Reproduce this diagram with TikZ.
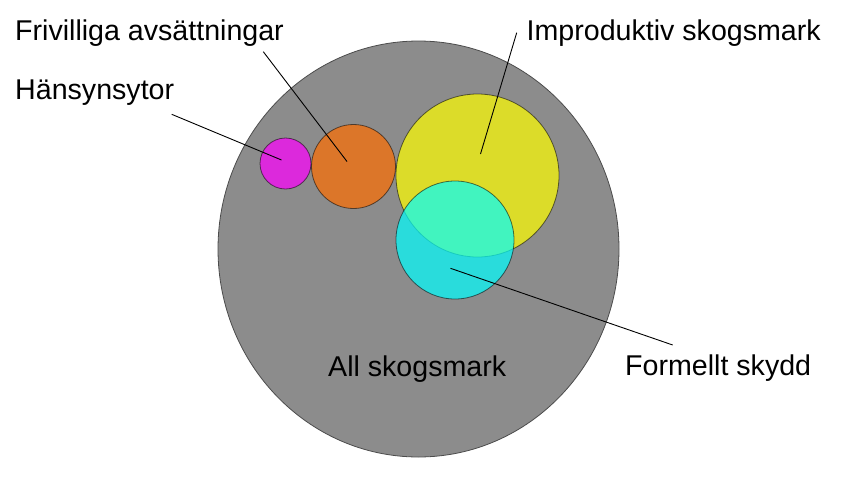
\documentclass[tikz,border=0pt]{standalone}
\usepackage{fontspec}
\setmainfont{Liberation Sans}
\usetikzlibrary{shapes.geometric}
\definecolor{biggray}{RGB}{140,140,140}
\definecolor{cmag}{RGB}{255,0,255}
\definecolor{corange}{RGB}{255,110,0}
\definecolor{cyellow}{RGB}{255,255,0}
\definecolor{ccyan}{RGB}{0,255,255}
\tikzset{
  blob/.style={circle, inner sep=0pt, fill opacity=0.7, draw=black, draw opacity=0.55, line width=0.8pt},
  lbl/.style={anchor=base west, inner sep=0pt, font=\fontsize{28.6}{34}\selectfont},
  leader/.style={draw=black, line width=0.9pt}
}
\begin{document}
\begin{tikzpicture}[x=1pt,y=-1pt]
\useasboundingbox (0,0) rectangle (844,483);
\node[ellipse, inner sep=0pt, minimum width=401pt, minimum height=416pt, fill=biggray, draw=black!70, line width=0.8pt] (all) at (418.5,249) {};
\node[blob, fill=cmag, minimum size=51pt] (mag) at (285.5,163.5) {};
\node[blob, fill=corange, minimum size=84pt] (ora) at (353.5,166.5) {};
\node[blob, fill=cyellow, minimum size=163pt] (yel) at (477.5,175.5) {};
\node[blob, fill=ccyan, minimum size=118pt] (cya) at (455,240) {};

\node[lbl] (tall) at (328,376) {All skogsmark};
\node[lbl] (tfri) at (15,40.7) {Frivilliga avsättningar};
\node[lbl] (than) at (15,99.3) {Hänsynsytor};
\node[lbl] (timp) at (526.5,40.7) {Improduktiv skogsmark};
\node[lbl] (tfor) at (625,375) {Formellt skydd};

\coordinate (hs) at (171.7,114.3);
\coordinate (he) at (281.5,160);
\coordinate (fs) at (263.3,51.7);
\coordinate (fe) at (347,161.5);
\coordinate (is) at (516.7,32.7);
\coordinate (ie) at (480.5,154);
\coordinate (os) at (450.5,268.3);
\coordinate (oe) at (672.7,345);

\draw[leader] (hs) -- (he);
\draw[leader] (fs) -- (fe);
\draw[leader] (is) -- (ie);
\draw[leader] (os) -- (oe);
\end{tikzpicture}
\end{document}
